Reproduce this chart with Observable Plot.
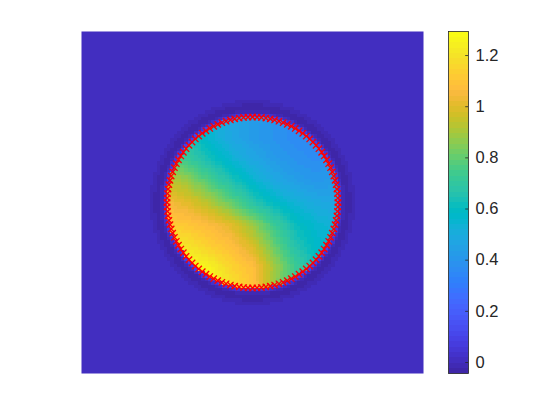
<!DOCTYPE html>
<html><head><meta charset="utf-8">
<script src="https://cdn.jsdelivr.net/npm/d3@7"></script>
<script src="https://cdn.jsdelivr.net/npm/@observablehq/plot@0.6"></script>
<style>
body{margin:0;background:#fff;}
#wrap{position:relative;width:560px;height:420px;background:#fff;}
#wrap svg{position:absolute;left:0;top:0;}
</style></head><body><div id="wrap"></div>
<script>
// ---- data ----
const gridX = [-1, -0.75, -0.5, -0.25, 0, 0.25, 0.5, 0.75, 1];
const gridY = [1, 0.75, 0.5, 0.25, 0, -0.25, -0.5, -0.75, -1];
const row1   = [0.66, 0.62, 0.54, 0.47, 0.43, 0.40, 0.37, 0.36, 0.38];
const row2   = [0.70, 0.65, 0.56, 0.48, 0.43, 0.39, 0.36, 0.35, 0.38];
const row3   = [0.80, 0.72, 0.63, 0.55, 0.48, 0.43, 0.39, 0.37, 0.40];
const row4   = [0.95, 0.88, 0.76, 0.65, 0.56, 0.49, 0.44, 0.41, 0.43];
const row5   = [1.05, 1.00, 0.92, 0.80, 0.67, 0.59, 0.53, 0.49, 0.47];
const row6   = [1.12, 1.10, 1.06, 1.00, 0.87, 0.73, 0.61, 0.55, 0.52];
const row7   = [1.25, 1.20, 1.13, 1.08, 0.98, 0.81, 0.66, 0.58, 0.55];
const row8   = [1.30, 1.28, 1.25, 1.15, 1.08, 0.90, 0.73, 0.62, 0.58];
const row9   = [1.30, 1.30, 1.28, 1.20, 1.10, 0.88, 0.72, 0.62, 0.58];
const fieldRows = [row1, row2, row3, row4, row5, row6, row7, row8, row9];
const haloR = [1.00, 1.03, 1.06, 1.10, 1.15, 1.20];
const haloV = [0.15, 0.06, -0.01, -0.04, -0.02, 0];
const diskRadius = 1;
const markerCount = 120;
const colorDomain = [-0.043, 1.294];
const colorTicks = [0, 0.2, 0.4, 0.6, 0.8, 1, 1.2];
const parula64 = [
[0.2422,0.1504,0.6603],[0.2504,0.1650,0.7076],[0.2578,0.1818,0.7511],[0.2647,0.1978,0.7952],
[0.2706,0.2147,0.8364],[0.2751,0.2342,0.8710],[0.2783,0.2559,0.8991],[0.2803,0.2782,0.9221],
[0.2813,0.3006,0.9414],[0.2810,0.3228,0.9579],[0.2795,0.3447,0.9717],[0.2760,0.3667,0.9829],
[0.2699,0.3892,0.9906],[0.2602,0.4123,0.9952],[0.2440,0.4358,0.9988],[0.2206,0.4603,0.9973],
[0.1963,0.4847,0.9892],[0.1834,0.5074,0.9798],[0.1786,0.5289,0.9682],[0.1764,0.5499,0.9520],
[0.1687,0.5703,0.9359],[0.1540,0.5902,0.9218],[0.1460,0.6091,0.9079],[0.1380,0.6276,0.8973],
[0.1248,0.6459,0.8883],[0.1113,0.6635,0.8763],[0.0952,0.6798,0.8598],[0.0689,0.6948,0.8394],
[0.0297,0.7082,0.8163],[0.0036,0.7203,0.7917],[0.0067,0.7312,0.7660],[0.0433,0.7411,0.7394],
[0.0964,0.7500,0.7120],[0.1408,0.7584,0.6842],[0.1717,0.7670,0.6554],[0.1938,0.7758,0.6251],
[0.2161,0.7843,0.5923],[0.2470,0.7918,0.5567],[0.2906,0.7973,0.5188],[0.3406,0.8008,0.4789],
[0.3909,0.8029,0.4354],[0.4456,0.8024,0.3909],[0.5044,0.7993,0.3480],[0.5616,0.7942,0.3045],
[0.6174,0.7876,0.2612],[0.6720,0.7793,0.2227],[0.7242,0.7698,0.1910],[0.7738,0.7598,0.1646],
[0.8203,0.7498,0.1535],[0.8634,0.7406,0.1596],[0.9035,0.7330,0.1774],[0.9393,0.7288,0.2100],
[0.9728,0.7298,0.2394],[0.9956,0.7434,0.2371],[0.9970,0.7659,0.2199],[0.9952,0.7893,0.2028],
[0.9892,0.8136,0.1885],[0.9786,0.8386,0.1766],[0.9676,0.8639,0.1643],[0.9610,0.8890,0.1537],
[0.9597,0.9135,0.1423],[0.9628,0.9373,0.1265],[0.9691,0.9606,0.1064],[0.9769,0.9839,0.0805]
];

// ---- derived tables ----
const parulaColors = parula64.map(([r,g,b]) => d3.rgb(r*255, g*255, b*255).formatHex());
const parulaInterp = t => parulaColors[Math.max(0, Math.min(63, Math.floor(t * 64)))];
const haloScale = d3.scaleLinear(haloR, haloV).clamp(true);
const colX = d3.scaleLinear([gridX[0], gridX[gridX.length - 1]], [0, gridX.length - 1]).clamp(true);
const rowY = d3.scaleLinear([gridY[0], gridY[gridY.length - 1]], [0, gridY.length - 1]).clamp(true);
function fieldAt(x, y) {
  const fx = colX(x), fy = rowY(y);
  const i = Math.min(gridX.length - 2, Math.floor(fx)), j = Math.min(gridY.length - 2, Math.floor(fy));
  const tx = fx - i, ty = fy - j;
  const a = fieldRows[j][i], b = fieldRows[j][i + 1], c = fieldRows[j + 1][i], d = fieldRows[j + 1][i + 1];
  return (a * (1 - tx) + b * tx) * (1 - ty) + (c * (1 - tx) + d * tx) * ty;
}
const markers = d3.range(markerCount).map(i => {
  const a = 2 * Math.PI * i / markerCount;
  return {x: diskRadius * Math.cos(a), y: diskRadius * Math.sin(a)};
});
const colorOpts = {type: "linear", domain: colorDomain, interpolate: parulaInterp, clamp: true};

const main = Plot.plot({
  width: 560, height: 420,
  marginLeft: 81, marginRight: 137, marginTop: 31, marginBottom: 47,
  x: {domain: [-2, 2], axis: null},
  y: {domain: [-2, 2], axis: null},
  color: colorOpts,
  style: {background: "transparent"},
  marks: [
    Plot.raster({fill: (x, y) => { const r = Math.hypot(x, y); return r < diskRadius ? fieldAt(x, y) : haloScale(r); },
      x1: -2, y1: -2, x2: 2, y2: 2, width: 100, height: 100, imageRendering: "pixelated"}),
    Plot.dot(markers, {x: "x", y: "y", symbol: "times", r: 3, stroke: "red", strokeWidth: 1.3})
  ]
});

const cbar = Plot.plot({
  width: 560, height: 420,
  marginLeft: 448, marginRight: 92, marginTop: 31, marginBottom: 47,
  x: {domain: [0, 1], axis: null},
  y: {domain: colorDomain, axis: "right", ticks: colorTicks, tickFormat: d => String(+d.toFixed(1)),
      tickSize: 0, tickPadding: 7, label: null},
  color: colorOpts,
  style: {background: "transparent", fontFamily: "'Liberation Sans', Arial, Helvetica, sans-serif", fontSize: "16.5px", color: "#262626"},
  marks: [
    Plot.raster({fill: (x, y) => y, x1: 0, x2: 1, y1: colorDomain[0], y2: colorDomain[1],
      width: 1, height: 64, imageRendering: "pixelated"}),
    Plot.ruleY(colorTicks, {x1: 0.86, x2: 1, stroke: "#262626", strokeWidth: 0.8}),
    Plot.frame({stroke: "#262626", strokeWidth: 0.8})
  ]
});

const wrap = document.getElementById("wrap");
wrap.appendChild(main);
wrap.appendChild(cbar);
</script>
</body></html>
